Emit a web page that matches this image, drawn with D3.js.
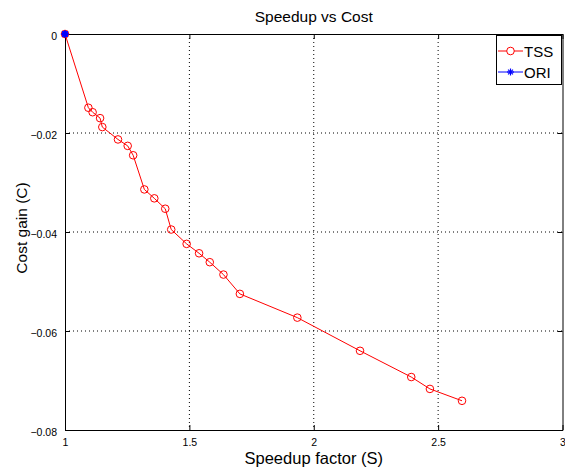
<!DOCTYPE html>
<html>
<head>
<meta charset="utf-8">
<script src="https://cdn.jsdelivr.net/npm/d3@7"></script>
<style>
  body { margin: 0; background: #fff; }
  text { font-family: "Liberation Sans", Arial, sans-serif; }
</style>
</head>
<body>
<svg width="565" height="469"></svg>
<script>
// TSS series
const tssSpeedup = [1.0, 1.094, 1.111, 1.141, 1.150, 1.213, 1.252, 1.274, 1.319, 1.359, 1.403,
  1.427, 1.489, 1.539, 1.582, 1.637, 1.703, 1.934, 2.186, 2.392, 2.467, 2.596]
const tssCost = [0, -0.0149, -0.0158, -0.0170, -0.0188, -0.0213, -0.0226, -0.0245, -0.0314, -0.0332, -0.0353,
  -0.0395, -0.0424, -0.0443, -0.0461, -0.0486, -0.0525, -0.0573, -0.0640, -0.0693, -0.0717, -0.0741]
// ORI reference point
const oriSpeedup = [1]
const oriCost = [0]

const xTicks = [1, 1.5, 2, 2.5, 3]
const yTicks = [0, -0.02, -0.04, -0.06, -0.08]

const svg = d3.select("svg")
const plotLeft = 65, plotRight = 562.5, plotTop = 34, plotBottom = 430

const x = d3.scaleLinear().domain([1, 3]).range([plotLeft, plotRight])
const y = d3.scaleLinear().domain([-0.08, 0]).range([plotBottom, plotTop])

// grid
const grid = svg.append("g").attr("stroke", "#000").attr("stroke-dasharray", "1,3").attr("stroke-width", 1)
xTicks.slice(1, -1).forEach(t => {
  grid.append("line").attr("x1", x(t)).attr("x2", x(t)).attr("y1", plotTop).attr("y2", plotBottom)
})
yTicks.slice(1, -1).forEach(t => {
  grid.append("line").attr("x1", plotLeft).attr("x2", plotRight).attr("y1", y(t)).attr("y2", y(t))
})

// axes (inward ticks, box all round)
const xAxis = d3.axisBottom(x).tickValues(xTicks).tickSizeInner(-5).tickSizeOuter(0).tickPadding(9)
  .tickFormat(d => d3.format("")(d))
const yAxis = d3.axisLeft(y).tickValues(yTicks).tickSizeInner(-5).tickSizeOuter(0).tickPadding(8)
  .tickFormat(d => d === 0 ? "0" : d3.format(".2f")(d))

const gx = svg.append("g").attr("transform", `translate(0,${plotBottom})`).call(xAxis)
const gy = svg.append("g").attr("transform", `translate(${plotLeft},0)`).call(yAxis)
const gxTop = svg.append("g").attr("transform", `translate(0,${plotTop})`)
  .call(d3.axisTop(x).tickValues(xTicks).tickSizeInner(-5).tickSizeOuter(0).tickFormat(""))
const gyRight = svg.append("g").attr("transform", `translate(${plotRight},0)`)
  .call(d3.axisRight(y).tickValues(yTicks).tickSizeInner(-5).tickSizeOuter(0).tickFormat(""))

;[gx, gy, gxTop, gyRight].forEach(g => {
  g.selectAll("path").attr("stroke", "#000")
  g.selectAll("line").attr("stroke", "#000")
  g.selectAll("text").attr("font-size", 10.5).attr("fill", "#000")
    .style("font-family", "Liberation Sans, Arial, sans-serif")
})
gy.selectAll("text").attr("dy", "0.5em")

// TSS line + circles
const tss = tssSpeedup.map((s, i) => [s, tssCost[i]])
svg.append("path").datum(tss)
  .attr("fill", "none").attr("stroke", "#ff0000").attr("stroke-width", 1)
  .attr("d", d3.line().x(d => x(d[0])).y(d => y(d[1])))
svg.append("g").selectAll("circle").data(tss).enter().append("circle")
  .attr("cx", d => x(d[0])).attr("cy", d => y(d[1])).attr("r", 3.8)
  .attr("fill", "none").attr("stroke", "#ff0000").attr("stroke-width", 1)

// ORI star marker
function star(g, cx, cy, r, color) {
  const s = g.append("g").attr("stroke", color).attr("stroke-width", 1.2)
  s.append("line").attr("x1", cx - r).attr("x2", cx + r).attr("y1", cy).attr("y2", cy)
  s.append("line").attr("x1", cx).attr("x2", cx).attr("y1", cy - r).attr("y2", cy + r)
  const d = r * 0.7
  s.append("line").attr("x1", cx - d).attr("x2", cx + d).attr("y1", cy - d).attr("y2", cy + d)
  s.append("line").attr("x1", cx - d).attr("x2", cx + d).attr("y1", cy + d).attr("y2", cy - d)
}
const ori = oriSpeedup.map((s, i) => [s, oriCost[i]])
ori.forEach(d => {
  svg.append("circle").attr("cx", x(d[0])).attr("cy", y(d[1])).attr("r", 3.2).attr("fill", "#0000ff")
  star(svg, x(d[0]), y(d[1]), 4, "#0000ff")
})

// title and labels
const midX = (plotLeft + plotRight) / 2
svg.append("text").attr("x", midX).attr("y", 22).attr("text-anchor", "middle")
  .attr("font-size", 15.5).text("Speedup vs Cost")
svg.append("text").attr("x", midX).attr("y", 464).attr("text-anchor", "middle")
  .attr("font-size", 16.5).text("Speedup factor (S)")
svg.append("text").attr("transform", "translate(27,228) rotate(-90)").attr("text-anchor", "middle")
  .attr("font-size", 15.5).text("Cost gain (C)")

// legend
const lg = svg.append("g")
lg.append("rect").attr("x", 496.5).attr("y", 35.5).attr("width", 65).attr("height", 49)
  .attr("fill", "#fff").attr("stroke", "#000").attr("stroke-width", 1)
lg.append("line").attr("x1", 498).attr("x2", 523).attr("y1", 51).attr("y2", 51).attr("stroke", "#ff0000")
lg.append("circle").attr("cx", 510.5).attr("cy", 51).attr("r", 3.8).attr("fill", "#fff").attr("stroke", "#ff0000")
lg.append("text").attr("x", 524).attr("y", 56.5).attr("font-size", 15).text("TSS")
lg.append("line").attr("x1", 498).attr("x2", 523).attr("y1", 72).attr("y2", 72).attr("stroke", "#0000ff")
star(lg, 510.5, 72, 3.5, "#0000ff")
lg.append("text").attr("x", 524).attr("y", 77.5).attr("font-size", 15).text("ORI")
</script>
</body>
</html>
